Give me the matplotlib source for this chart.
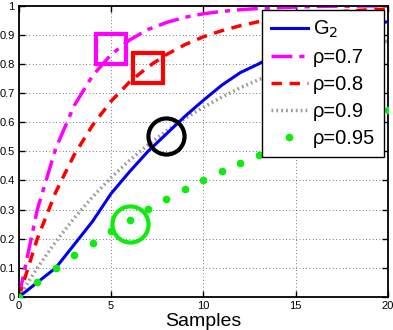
import numpy as np
import matplotlib
matplotlib.use("Agg")
import matplotlib.pyplot as plt

plt.rcParams['font.family'] = ['Liberation Sans', 'DejaVu Sans']

# samples (integer steps)
t = list(range(21))

g2 = [0, 0.05, 0.10, 0.18, 0.26, 0.355, 0.43, 0.50, 0.56, 0.62, 0.675,
      0.727, 0.77, 0.80, 0.835, 0.862, 0.885, 0.903, 0.918, 0.932, 0.945]
rho07 = [0, 0.30, 0.51, 0.657, 0.76, 0.832, 0.882, 0.918, 0.942, 0.96, 0.972,
         0.98, 0.986, 0.99, 0.993, 0.995, 0.997, 0.998, 0.998, 0.999, 0.999]
rho08 = [0, 0.20, 0.36, 0.488, 0.59, 0.672, 0.738, 0.79, 0.832, 0.866, 0.893,
         0.914, 0.931, 0.945, 0.956, 0.965, 0.972, 0.977, 0.982, 0.986, 0.988]
rho09 = [0, 0.10, 0.19, 0.271, 0.344, 0.41, 0.469, 0.522, 0.57, 0.613, 0.651,
         0.686, 0.718, 0.746, 0.771, 0.794, 0.815, 0.833, 0.85, 0.865, 0.878]
rho095 = [0, 0.05, 0.098, 0.143, 0.185, 0.226, 0.265, 0.302, 0.337, 0.37, 0.401,
          0.431, 0.46, 0.487, 0.512, 0.537, 0.56, 0.582, 0.603, 0.623, 0.642]

# highlighted points (x, y)
sq_07 = (5, 0.85)
sq_08 = (7, 0.785)
circ_g2 = (8, 0.552)
circ_095 = (6, 0.251)

fig = plt.figure(figsize=(3.93, 3.30), dpi=100)
ax = fig.add_axes([0.048, 0.10, 0.939, 0.883])

magenta = (1, 0, 1)
green = (0.05, 0.93, 0.05)

ax.plot(t, g2, color=(0, 0, 0.95), lw=2.2, label='G$_2$', zorder=4)
ax.plot(t, rho07, color=magenta, lw=2.5, linestyle=(0, (6, 2, 1.5, 2)), label='ρ=0.7')
ax.plot(t, rho08, color='red', lw=2.5, linestyle=(0, (3, 2.2)), label='ρ=0.8')
ax.plot(t, rho09, color='0.6', lw=2.5, linestyle=(0, (0.5, 0.9)), label='ρ=0.9')
ax.plot(t, rho095, color=green, lw=0, marker='o', ms=4.5, label='ρ=0.95', zorder=5)

# highlight markers
ax.plot(*sq_07, marker='s', ms=21, mfc='none', mec=magenta, mew=3, zorder=6)
ax.plot(*sq_08, marker='s', ms=21, mfc='none', mec='red', mew=3, zorder=6)
ax.plot(*circ_g2, marker='o', ms=26, mfc='none', mec='black', mew=3, zorder=6)
ax.plot(*circ_095, marker='o', ms=26, mfc='none', mec=green, mew=3, zorder=6)

ax.set_xlim(0, 20)
ax.set_ylim(0, 1)
ax.set_xticks([0, 5, 10, 15, 20])
ax.set_yticks(np.arange(0, 1.01, 0.1))
ax.set_yticklabels(['0', '0.1', '0.2', '0.3', '0.4', '0.5', '0.6', '0.7', '0.8', '0.9', '1'])
ax.tick_params(direction='in', length=4, width=1, labelsize=8, top=True, right=True, pad=3)
ax.grid(True, color='k', linestyle=(0, (1, 3)), lw=0.6, alpha=0.7)
for s in ax.spines.values():
    s.set_linewidth(1.3)

ax.set_xlabel('Samples', fontsize=14, labelpad=1.5)

leg = ax.legend(loc='upper right', fontsize=14.5, frameon=True, fancybox=False,
                edgecolor='k', framealpha=1, borderaxespad=0.2, handlelength=1.8,
                handletextpad=0.25, labelspacing=0.4, borderpad=0.45)
leg.get_frame().set_linewidth(1.0)
leg.set_zorder(10)

fig.savefig('out.png', dpi=100)
